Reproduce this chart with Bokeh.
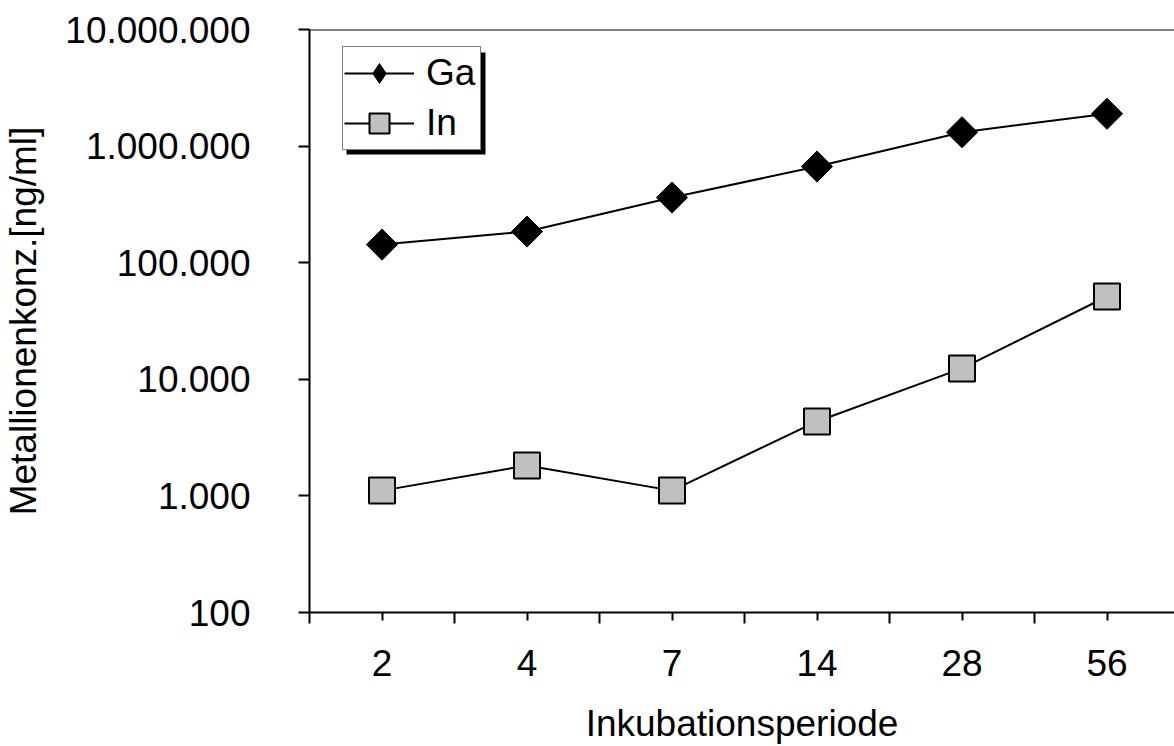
import numpy as np
from bokeh.plotting import figure
from bokeh.models import (Range1d, FixedTicker, Legend, LegendItem, Span, BoxAnnotation)
from bokeh.embed import file_html
from bokeh.resources import INLINE

# ---- data ----
categories = ["2", "4", "7", "14", "28", "56"]
ga_values = [143000, 185000, 362000, 668000, 1315000, 1893000]
in_values = [1110, 1820, 1110, 4350, 12400, 51300]
y_ticks = [100, 1000, 10000, 100000, 1000000, 10000000]
y_tick_labels = ["100", "1.000", "10.000", "100.000", "1.000.000", "10.000.000"]
series_names = ["Ga", "In"]
x_title = "Inkubationsperiode"
y_title = "Metallionenkonz.[ng/ml]"

FONT = "Liberation Sans"
FS = "37px"

W, H = 1174, 746
left_b, top_b, bottom_b = 309, 29, 134
frame_w = W - left_b
cat_px = 145.0

xs = list(np.arange(len(categories)) + 0.5)

p = figure(width=W, height=H, output_backend="svg", toolbar_location=None,
           y_axis_type="log",
           x_range=Range1d(0, frame_w / cat_px),
           y_range=Range1d(100, 10000000),
           min_border_left=left_b, min_border_top=top_b,
           min_border_bottom=bottom_b, min_border_right=0)
p.outline_line_color = None
p.grid.visible = False
p.background_fill_color = "white"
p.border_fill_color = "white"

# x axis
xa = p.xaxis[0]
xa.ticker = FixedTicker(ticks=xs, minor_ticks=list(range(len(categories) + 1)))
xa.major_label_overrides = {float(x): c for x, c in zip(xs, categories)}
xa.major_tick_in = 0
xa.major_tick_out = 8
xa.minor_tick_in = 0
xa.minor_tick_out = 11
xa.axis_line_width = 2
xa.major_tick_line_width = 2
xa.minor_tick_line_width = 2
xa.major_label_text_font = FONT
xa.major_label_text_font_size = FS
xa.major_label_text_color = "black"
xa.major_label_standoff = 26
xa.axis_label = x_title
xa.axis_label_text_font = FONT
xa.axis_label_text_font_size = FS
xa.axis_label_text_font_style = "normal"
xa.axis_label_text_color = "black"
xa.axis_label_standoff = 24

# y axis
ya = p.yaxis[0]
ya.ticker = FixedTicker(ticks=y_ticks, minor_ticks=[])
ya.major_label_overrides = {float(t): l for t, l in zip(y_ticks, y_tick_labels)}
ya.major_tick_in = 0
ya.major_tick_out = 11
ya.minor_tick_in = 0
ya.minor_tick_out = 0
ya.axis_line_width = 2
ya.major_tick_line_width = 2
ya.major_label_text_font = FONT
ya.major_label_text_font_size = FS
ya.major_label_text_color = "black"
ya.major_label_standoff = 48
ya.axis_label = y_title
ya.axis_label_text_font = FONT
ya.axis_label_text_font_size = FS
ya.axis_label_text_font_style = "normal"
ya.axis_label_text_color = "black"
ya.axis_label_standoff = 18

# top border line of plot area
p.add_layout(Span(location=10000000, dimension="width", line_color="black", line_width=2))

# series
ga_line = p.line(xs, ga_values, line_color="black", line_width=2)
ga_pts = p.scatter(xs, ga_values, marker="square", angle=np.pi / 4, size=22,
                   fill_color="black", line_color="black", line_width=1)
in_line = p.line(xs, in_values, line_color="black", line_width=2)
in_pts = p.scatter(xs, in_values, marker="square", size=26,
                   fill_color="#C0C0C0", line_color="black", line_width=2)

# legend key for the diamond (legend-only renderer, nothing drawn in the plot)
ga_key = p.scatter(x=[np.nan], y=[np.nan], marker="diamond", fill_color="black",
                   line_color="black", line_width=1)

# legend shadow (decoration)
px_per_dec = 583 / 5.0
def ylog(py):
    return 10 ** (7 - (py - 29) / px_per_dec)
shadow = BoxAnnotation(left=(346 - 309) / cat_px, right=(485 - 309) / cat_px,
                       top=ylog(52), bottom=ylog(154),
                       fill_color="black", fill_alpha=1.0, line_color="black",
                       line_width=0, level="annotation")
p.add_layout(shadow)

legend = Legend(items=[LegendItem(label=series_names[0], renderers=[ga_line, ga_key]),
                       LegendItem(label=series_names[1], renderers=[in_line, in_pts])],
                location=(33, 462),
                border_line_color="black", border_line_width=1.5,
                background_fill_color="white", background_fill_alpha=1.0,
                label_text_font=FONT, label_text_font_size=FS,
                label_text_color="black",
                glyph_width=70, glyph_height=50, label_height=50, label_width=53,
                label_standoff=12, padding=1, spacing=0, margin=0)
p.add_layout(legend, "center")

open("out.html", "w").write(file_html(p, INLINE))
